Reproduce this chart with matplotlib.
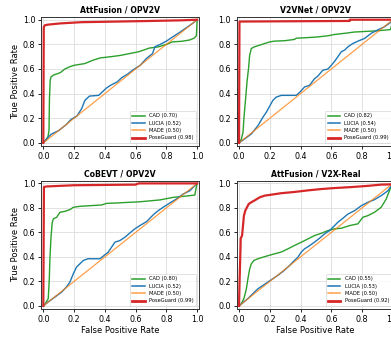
import matplotlib
matplotlib.use("Agg")
import matplotlib.pyplot as plt

titles = ["AttFusion / OPV2V", "V2VNet / OPV2V", "CoBEVT / OPV2V", "AttFusion / V2X-Real"]
methods = ["CAD", "LUCIA", "MADE", "PoseGuard"]
auc_values = [
    [0.70, 0.52, 0.50, 0.98],
    [0.82, 0.54, 0.50, 0.99],
    [0.80, 0.52, 0.50, 0.99],
    [0.55, 0.53, 0.50, 0.92],
]

# MADE (diagonal) for all panels
made_fpr = [0.0, 1.0]
made_tpr = [0.0, 1.0]

# Panel 1: AttFusion / OPV2V
p1_cad_fpr = [0, 0.02, 0.03, 0.037, 0.04, 0.045, 0.05, 0.065, 0.11, 0.14, 0.17, 0.2, 0.27, 0.32, 0.37, 0.44, 0.5, 0.56, 0.62, 0.69, 0.75, 0.8, 0.84, 0.9, 0.95, 0.98, 0.995, 1.0]
p1_cad_tpr = [0, 0.03, 0.05, 0.1, 0.36, 0.51, 0.535, 0.55, 0.57, 0.6, 0.617, 0.63, 0.644, 0.67, 0.69, 0.70, 0.71, 0.725, 0.74, 0.77, 0.78, 0.80, 0.82, 0.825, 0.835, 0.85, 0.87, 1.0]
p1_lucia_fpr = [0, 0.02, 0.05, 0.1, 0.15, 0.18, 0.22, 0.25, 0.27, 0.3, 0.36, 0.38, 0.41, 0.44, 0.48, 0.51, 0.55, 0.58, 0.63, 0.67, 0.71, 0.725, 0.76, 0.8, 0.84, 0.89, 0.93, 0.97, 1.0]
p1_lucia_tpr = [0, 0.03, 0.07, 0.1, 0.15, 0.19, 0.22, 0.28, 0.345, 0.38, 0.386, 0.41, 0.445, 0.47, 0.495, 0.53, 0.56, 0.59, 0.63, 0.685, 0.725, 0.78, 0.80, 0.826, 0.86, 0.90, 0.935, 0.97, 1.0]
p1_pg_fpr = [0, 0.003, 0.01, 0.03, 0.11, 0.25, 0.48, 0.7, 0.9, 1.0]
p1_pg_tpr = [0, 0.94, 0.955, 0.96, 0.97, 0.98, 0.985, 0.99, 0.995, 1.0]

# Panel 2: V2VNet / OPV2V
p2_cad_fpr = [0, 0.015, 0.026, 0.032, 0.043, 0.052, 0.063, 0.069, 0.08, 0.1, 0.134, 0.167, 0.2, 0.23, 0.3, 0.36, 0.372, 0.45, 0.51, 0.58, 0.62, 0.69, 0.75, 0.84, 0.9, 0.985, 1.0]
p2_cad_tpr = [0, 0.03, 0.087, 0.2, 0.36, 0.495, 0.617, 0.71, 0.766, 0.78, 0.793, 0.807, 0.82, 0.826, 0.83, 0.84, 0.85, 0.855, 0.86, 0.87, 0.88, 0.89, 0.9, 0.906, 0.91, 0.92, 1.0]
p2_lucia_fpr = [0, 0.037, 0.08, 0.123, 0.156, 0.178, 0.2, 0.22, 0.242, 0.275, 0.372, 0.394, 0.426, 0.458, 0.49, 0.513, 0.545, 0.578, 0.6, 0.62, 0.643, 0.665, 0.686, 0.708, 0.74, 0.773, 0.816, 0.86, 0.9, 0.946, 0.985, 1.0]
p2_lucia_tpr = [0, 0.033, 0.073, 0.14, 0.21, 0.25, 0.3, 0.345, 0.372, 0.386, 0.386, 0.41, 0.454, 0.467, 0.52, 0.543, 0.59, 0.6, 0.63, 0.66, 0.7, 0.74, 0.753, 0.78, 0.807, 0.826, 0.848, 0.89, 0.916, 0.943, 0.978, 1.0]
p2_pg_fpr = [0, 0.003, 0.72, 0.72, 1.0]
p2_pg_tpr = [0, 0.985, 0.99, 1.0, 1.0]

# Panel 3: CoBEVT / OPV2V
p3_cad_fpr = [0, 0.017, 0.032, 0.039, 0.043, 0.05, 0.058, 0.065, 0.087, 0.108, 0.14, 0.173, 0.195, 0.238, 0.303, 0.379, 0.411, 0.476, 0.563, 0.628, 0.714, 0.758, 0.844, 0.909, 0.985, 0.996, 1.0]
p3_cad_tpr = [0, 0.027, 0.06, 0.22, 0.385, 0.56, 0.68, 0.71, 0.724, 0.764, 0.772, 0.786, 0.805, 0.813, 0.818, 0.824, 0.837, 0.84, 0.846, 0.85, 0.86, 0.865, 0.886, 0.894, 0.905, 0.98, 1.0]
p3_lucia_fpr = [0, 0.032, 0.076, 0.12, 0.15, 0.173, 0.195, 0.216, 0.238, 0.26, 0.29, 0.368, 0.39, 0.422, 0.444, 0.465, 0.498, 0.53, 0.563, 0.595, 0.628, 0.671, 0.714, 0.747, 0.779, 0.822, 0.866, 0.909, 0.952, 1.0]
p3_lucia_tpr = [0, 0.033, 0.073, 0.114, 0.154, 0.195, 0.263, 0.317, 0.344, 0.371, 0.385, 0.385, 0.407, 0.439, 0.48, 0.52, 0.534, 0.56, 0.596, 0.629, 0.656, 0.688, 0.743, 0.778, 0.805, 0.84, 0.873, 0.913, 0.94, 1.0]
p3_pg_fpr = [0, 0.004, 0.02, 0.2, 0.6, 0.62, 1.0]
p3_pg_tpr = [0, 0.97, 0.975, 0.985, 0.99, 1.0, 1.0]

# Panel 4: AttFusion / V2X-Real
p4_cad_fpr = [0, 0.015, 0.032, 0.048, 0.058, 0.069, 0.08, 0.097, 0.123, 0.156, 0.188, 0.23, 0.275, 0.318, 0.36, 0.405, 0.448, 0.49, 0.535, 0.578, 0.62, 0.665, 0.72, 0.773, 0.805, 0.838, 0.88, 0.924, 0.957, 0.978, 0.99, 1.0]
p4_cad_tpr = [0, 0.019, 0.06, 0.14, 0.222, 0.30, 0.344, 0.371, 0.385, 0.398, 0.41, 0.425, 0.44, 0.466, 0.493, 0.52, 0.547, 0.574, 0.593, 0.615, 0.629, 0.634, 0.656, 0.67, 0.724, 0.737, 0.764, 0.805, 0.873, 0.94, 0.98, 1.0]
p4_lucia_fpr = [0, 0.026, 0.058, 0.09, 0.123, 0.156, 0.188, 0.22, 0.253, 0.286, 0.318, 0.35, 0.383, 0.405, 0.426, 0.46, 0.49, 0.524, 0.556, 0.589, 0.61, 0.643, 0.675, 0.708, 0.752, 0.795, 0.838, 0.88, 0.924, 0.968, 1.0]
p4_lucia_tpr = [0, 0.027, 0.06, 0.1, 0.14, 0.168, 0.195, 0.222, 0.25, 0.282, 0.317, 0.358, 0.398, 0.44, 0.466, 0.493, 0.52, 0.553, 0.588, 0.615, 0.642, 0.683, 0.715, 0.75, 0.778, 0.818, 0.846, 0.867, 0.9, 0.94, 1.0]
p4_pg_fpr = [0, 0.004, 0.009, 0.011, 0.02, 0.026, 0.032, 0.041, 0.052, 0.063, 0.08, 0.1, 0.134, 0.167, 0.21, 0.275, 0.36, 0.448, 0.535, 0.62, 0.73, 0.838, 0.924, 0.985, 1.0]
p4_pg_tpr = [0, 0.22, 0.44, 0.55, 0.575, 0.656, 0.737, 0.778, 0.805, 0.832, 0.846, 0.86, 0.886, 0.9, 0.908, 0.92, 0.93, 0.943, 0.954, 0.962, 0.97, 0.98, 0.99, 0.992, 1.0]

panels = [
    [(p1_cad_fpr, p1_cad_tpr), (p1_lucia_fpr, p1_lucia_tpr), (made_fpr, made_tpr), (p1_pg_fpr, p1_pg_tpr)],
    [(p2_cad_fpr, p2_cad_tpr), (p2_lucia_fpr, p2_lucia_tpr), (made_fpr, made_tpr), (p2_pg_fpr, p2_pg_tpr)],
    [(p3_cad_fpr, p3_cad_tpr), (p3_lucia_fpr, p3_lucia_tpr), (made_fpr, made_tpr), (p3_pg_fpr, p3_pg_tpr)],
    [(p4_cad_fpr, p4_cad_tpr), (p4_lucia_fpr, p4_lucia_tpr), (made_fpr, made_tpr), (p4_pg_fpr, p4_pg_tpr)],
]

colors = ["#2ca02c", "#1f77b4", "#ff7f0e", "#d62728"]
widths = [1.0, 1.0, 0.9, 1.6]
alphas = [1.0, 1.0, 0.75, 1.0]

W, H = 391, 337
fig = plt.figure(figsize=(W / 100, H / 100), dpi=100)

ax_w = 158 / W
ax_h_top = (146 - 17) / H
ax_h_bot = (309 - 180.7) / H
positions = [
    (41 / W, 1 - 146 / H, ax_w, ax_h_top),
    (236.7 / W, 1 - 146 / H, ax_w, ax_h_top),
    (41 / W, 1 - 309 / H, ax_w, ax_h_bot),
    (236.7 / W, 1 - 309 / H, ax_w, ax_h_bot),
]

ticks = [0.0, 0.2, 0.4, 0.6, 0.8, 1.0]
for i, pos in enumerate(positions):
    ax = fig.add_axes(pos)
    for j, (fx, ty) in enumerate(panels[i]):
        ax.plot(fx, ty, color=colors[j], lw=widths[j], alpha=alphas[j],
                label=f"{methods[j]} ({auc_values[i][j]:.2f})", zorder=3 if j == 3 else 2)
    ax.set_xlim(-0.015, 1.012)
    ax.set_ylim(-0.025, 1.022)
    ax.set_xticks(ticks)
    ax.set_yticks(ticks)
    ax.set_xticklabels([f"{t:.1f}" for t in ticks])
    ax.set_yticklabels([f"{t:.1f}" for t in ticks])
    ax.tick_params(labelsize=5.8, length=2.5, width=0.6, pad=1.5)
    ax.grid(True, color="#dddddd", lw=0.6)
    ax.set_axisbelow(True)
    for s in ax.spines.values():
        s.set_linewidth(0.7)
        s.set_color("#333333")
    ax.set_title(titles[i], fontsize=5.6, fontweight="bold", pad=3)
    if i % 2 == 0:
        ax.set_ylabel("True Positive Rate", fontsize=6.0, labelpad=2)
    if i >= 2:
        ax.set_xlabel("False Positive Rate", fontsize=6.0, labelpad=1.5)
    leg = ax.legend(loc="lower right", fontsize=3.7, handlelength=2.4, labelspacing=0.45,
                    borderpad=0.5, borderaxespad=0.6, handletextpad=0.8, fancybox=True)
    leg.get_frame().set_linewidth(0.5)
    for line, lw in zip(leg.get_lines(), [1.1, 1.1, 1.1, 2.0]):
        line.set_linewidth(lw)

fig.savefig("out.png", dpi=100)
